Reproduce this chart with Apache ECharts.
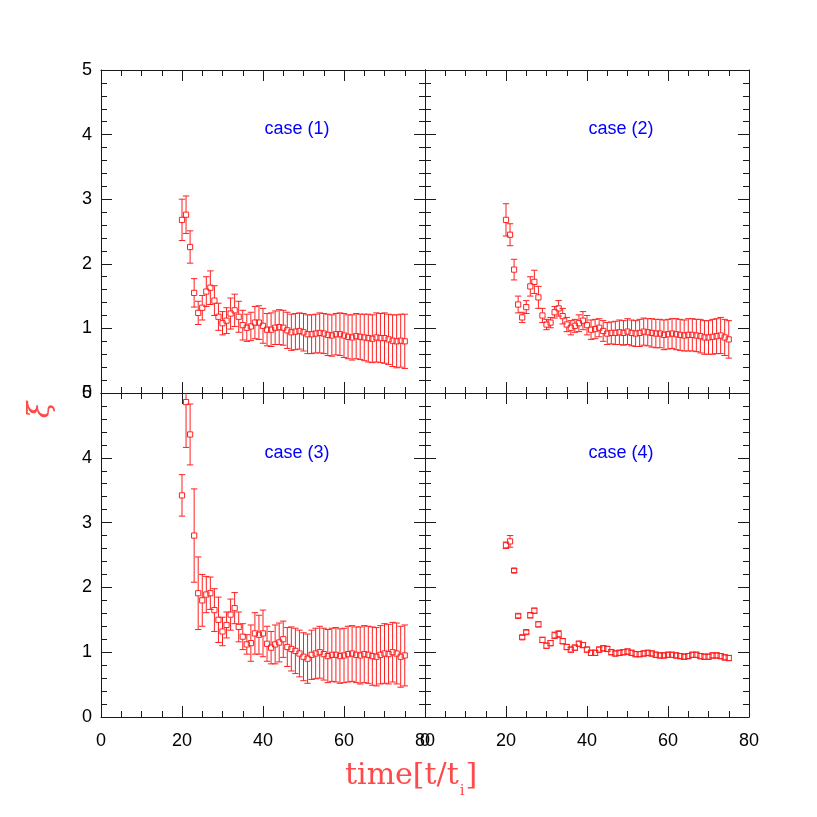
<!DOCTYPE html>
<html><head><meta charset="utf-8">
<script src="https://cdn.jsdelivr.net/npm/echarts@6/dist/echarts.min.js"></script>
<style>html,body{margin:0;padding:0;background:#fff}#c{width:817px;height:817px}</style>
</head><body><div id="c"></div>
<script>
// ---- data ----
const times = [20,21,22,23,24,25,26,27,28,29,30,31,32,33,34,35,36,37,38,39,40,41,42,43,44,45,46,47,48,49,50,51,52,53,54,55,56,57,58,59,60,61,62,63,64,65,66,67,68,69,70,71,72,73,74,75];

const case1 = [2.68,2.76,2.26,1.55,1.24,1.32,1.57,1.63,1.43,1.18,1.08,1.12,1.23,1.28,1.18,1.05,1.01,1.03,1.09,1.09,1.04,0.98,0.98,1.01,1.02,1.01,0.97,0.94,0.95,0.96,0.94,0.91,0.91,0.92,0.93,0.92,0.90,0.89,0.91,0.91,0.89,0.87,0.86,0.88,0.87,0.86,0.85,0.84,0.86,0.85,0.85,0.83,0.81,0.80,0.81,0.80];
const err1 = [0.32,0.29,0.25,0.22,0.18,0.19,0.23,0.26,0.23,0.21,0.18,0.20,0.24,0.25,0.24,0.23,0.21,0.22,0.25,0.26,0.27,
  0.25,0.26,0.26,0.27,0.27,0.28,0.28,0.28,0.28,0.29,0.30,0.30,0.30,0.31,0.31,0.32,0.32,0.32,0.33,0.34,0.34,0.35,0.35,0.35,0.36,0.37,0.37,0.38,0.38,0.39,0.39,0.40,0.41,0.41,0.42];

const case2 = [2.68,2.45,1.91,1.37,1.17,1.33,1.65,1.72,1.48,1.20,1.06,1.09,1.25,1.31,1.19,1.06,1.01,1.04,1.08,1.12,1.05,0.98,0.99,1.01,0.96,0.92,0.93,0.93,0.94,0.93,0.95,0.93,0.92,0.93,0.95,0.94,0.93,0.92,0.92,0.90,0.91,0.92,0.91,0.90,0.89,0.90,0.90,0.89,0.88,0.86,0.86,0.87,0.88,0.89,0.86,0.83];
const err2 = [0.25,0.17,0.16,0.13,0.08,0.10,0.15,0.18,0.17,0.11,0.08,0.08,0.09,0.12,0.12,0.11,0.11,0.10,0.13,0.14,0.15,0.15,0.15,0.14,0.16,0.17,0.17,0.18,
  0.19,0.19,0.20,0.20,0.20,0.21,0.21,0.21,0.22,0.22,0.22,0.23,0.23,0.23,0.24,0.24,0.24,0.25,0.25,0.25,0.26,0.26,0.26,0.27,0.27,0.28,0.28,0.29];

const case3 = [3.42,4.86,4.36,2.80,1.91,1.80,1.89,1.91,1.65,1.50,1.32,1.42,1.58,1.68,1.39,1.24,1.12,1.14,1.29,1.27,1.29,1.13,1.07,1.12,1.15,1.20,1.08,1.05,1.02,0.98,0.93,0.90,0.96,0.98,1.00,0.97,0.94,0.96,0.96,0.94,0.95,0.97,0.98,0.96,0.95,0.97,0.96,0.94,0.93,0.96,0.98,0.97,1.00,0.98,0.93,0.95];
const err3 = [0.32,0.70,0.47,0.72,0.56,0.40,0.28,0.25,0.33,0.35,0.22,0.20,0.24,0.24,0.23,0.20,0.15,0.28,0.32,0.30,0.36,0.27,0.25,0.30,0.30,0.28,0.30,
  0.34,0.35,0.36,0.37,0.38,0.38,0.39,0.40,0.40,0.41,0.41,0.42,0.42,0.42,0.43,0.43,0.43,0.44,0.44,0.44,0.45,0.45,0.45,0.46,0.46,0.46,0.47,0.47,0.47];

const case4 = [2.65,2.71,2.26,1.56,1.23,1.31,1.57,1.64,1.43,1.19,1.10,1.14,1.26,1.28,1.17,1.08,1.04,1.07,1.13,1.11,1.04,0.99,0.99,1.04,1.06,1.05,1.00,0.98,0.99,1.00,1.01,0.99,0.97,0.97,0.98,0.99,0.98,0.96,0.95,0.95,0.96,0.96,0.95,0.94,0.93,0.94,0.96,0.96,0.94,0.93,0.93,0.95,0.95,0.94,0.92,0.91];
const err4 = [0.05,0.09,0.03,0.03,0.03,0.03,0.04,0.04,0.04,0.04,0.04,0.04,0.05,0.05,0.04,0.04,0.04,0.04,0.04,0.04,0.04,0.04,0.04,0.04,0.04,0.04,0.04,0.04,0.04,0.04,0.04,0.04,0.04,0.04,0.04,0.04,0.04,0.04,0.04,0.04,0.04,0.04,0.04,0.04,0.04,0.04,0.04,0.04,0.04,0.04,0.04,0.04,0.04,0.04,0.04,0.04];

const xTickLabels = [0,20,40,60,80];
const yTickLabels = [0,1,2,3,4,5];
const caseLabels = ['case (1)','case (2)','case (3)','case (4)'];
const yTitle = 'ξ';
const xTitleMain = 'time[t/t', xTitleSub = 'i', xTitleEnd = ']';

// ---- chart ----
const chart = echarts.init(document.getElementById('c'), null, {renderer:'canvas'});
const grids = [
  {left:101, top:70, width:324, height:323},
  {left:425, top:70, width:324, height:323},
  {left:101, top:393, width:324, height:324},
  {left:425, top:393, width:324, height:324}
];
const axisColor = '#1a1a1a';
const labelFont = {color:'#000', fontFamily:'Liberation Sans, Arial, sans-serif', fontSize:18};
const xAxes = [], yAxes = [];
grids.forEach((g,i)=>{
  const showX = i>=2, showY = (i%2)===0;
  ['bottom','top'].forEach(pos=>{
    xAxes.push({type:'value', gridIndex:i, position:pos, min:xTickLabels[0], max:xTickLabels[xTickLabels.length-1],
      interval:xTickLabels[1]-xTickLabels[0],
      axisLine:{show:true, onZero:false, lineStyle:{color:axisColor, width:1}},
      axisTick:{show:true, inside:true, length:11, lineStyle:{color:axisColor}},
      minorTick:{show:true, splitNumber:4, length:6, lineStyle:{color:axisColor}},
      splitLine:{show:false}, minorSplitLine:{show:false},
      axisLabel:Object.assign({show: pos==='bottom' && showX, margin:15, showMinLabel:true, showMaxLabel:true}, labelFont)
    });
  });
  ['left','right'].forEach(pos=>{
    yAxes.push({type:'value', gridIndex:i, position:pos, min:yTickLabels[0], max:yTickLabels[yTickLabels.length-1],
      interval:yTickLabels[1]-yTickLabels[0],
      axisLine:{show:true, onZero:false, lineStyle:{color:axisColor, width:1}},
      axisTick:{show:true, inside:true, length:11, lineStyle:{color:axisColor}},
      minorTick:{show:true, splitNumber:5, length:6, lineStyle:{color:axisColor}},
      splitLine:{show:false}, minorSplitLine:{show:false},
      axisLabel:Object.assign({show: pos==='left' && showY, margin:9, showMinLabel:true, showMaxLabel:true}, labelFont)
    });
  });
});

const red = '#ff2020';
function makeSeries(idx, vals, errs){
  return {
    type:'custom', xAxisIndex:idx*2, yAxisIndex:idx*2, clip:true, silent:true,
    data: times.map((t,k)=>[t, vals[k], errs[k]]),
    renderItem(params, api){
      const t=api.value(0), v=api.value(1), e=api.value(2);
      const c=api.coord([t,v]), hi=api.coord([t,v+e]), lo=api.coord([t,v-e]);
      const h=2.6, cw=3.2;
      const ls={stroke:red, lineWidth:1, fill:null};
      const ch=[{type:'rect', shape:{x:c[0]-h, y:c[1]-h, width:2*h, height:2*h}, style:{stroke:red, fill:'rgba(0,0,0,0)', lineWidth:1}}];
      if (hi[1] < c[1]-h) ch.push({type:'line', shape:{x1:c[0], y1:c[1]-h, x2:c[0], y2:hi[1]}, style:ls});
      ch.push({type:'line', shape:{x1:c[0]-cw, y1:hi[1], x2:c[0]+cw, y2:hi[1]}, style:ls});
      if (lo[1] > c[1]+h) ch.push({type:'line', shape:{x1:c[0], y1:c[1]+h, x2:c[0], y2:lo[1]}, style:ls});
      ch.push({type:'line', shape:{x1:c[0]-cw, y1:lo[1], x2:c[0]+cw, y2:lo[1]}, style:ls});
      return {type:'group', children:ch};
    }
  };
}

chart.setOption({
  animation:false,
  backgroundColor:'#fff',
  grid:grids,
  xAxis:xAxes,
  yAxis:yAxes,
  series:[makeSeries(0,case1,err1), makeSeries(1,case2,err2), makeSeries(2,case3,err3), makeSeries(3,case4,err4)]
});

// text annotations
const gfx = [];
caseLabels.forEach((lab,i)=>{
  const p = chart.convertToPixel({gridIndex:i}, [48.4, 4.08]);
  gfx.push({type:'text', x:p[0], y:p[1], style:{text:lab, fill:'#0000ff', font:'18px "Liberation Sans", Arial, sans-serif', textAlign:'center', textVerticalAlign:'middle'}});
});
gfx.push({type:'text', x:41, y:410, rotation:Math.PI/2, style:{text:yTitle, fill:'#ff4a4a', font:'italic 30px "DejaVu Serif", serif', textAlign:'center', textVerticalAlign:'middle'}});
const mc = document.createElement('canvas').getContext('2d');
const mainFont = '30px "DejaVu Serif", serif', subFont = '15px "DejaVu Serif", serif';
mc.font = mainFont; const wMain = mc.measureText(xTitleMain).width;
mc.font = subFont; const wSub = mc.measureText(xTitleSub).width;
const x0 = 345, base = 791;
gfx.push({type:'text', x:x0, y:base, style:{text:xTitleMain, fill:'#ff4a4a', font:mainFont, textAlign:'left', textVerticalAlign:'bottom'}});
gfx.push({type:'text', x:x0+wMain+1, y:base+8, style:{text:xTitleSub, fill:'#ff4a4a', font:subFont, textAlign:'left', textVerticalAlign:'bottom'}});
gfx.push({type:'text', x:x0+wMain+wSub+2, y:base, style:{text:xTitleEnd, fill:'#ff4a4a', font:mainFont, textAlign:'left', textVerticalAlign:'bottom'}});
chart.setOption({graphic:gfx});
</script></body></html>
